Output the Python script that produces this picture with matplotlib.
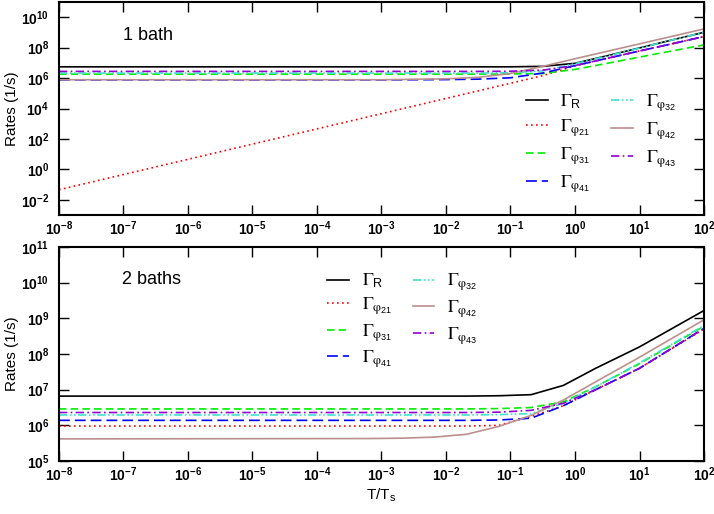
import numpy as np
import matplotlib
matplotlib.use("Agg")
import matplotlib.pyplot as plt
from matplotlib.font_manager import FontProperties
from matplotlib.ticker import FixedLocator, FuncFormatter, NullLocator

plt.rcParams['font.family'] = ['Liberation Sans', 'DejaVu Sans']
plt.rcParams['mathtext.fontset'] = 'custom'
plt.rcParams['mathtext.rm'] = 'Liberation Sans'
plt.rcParams['mathtext.bf'] = 'Liberation Sans:bold'
plt.rcParams['mathtext.it'] = 'Liberation Sans:italic'
plt.rcParams['mathtext.sf'] = 'Liberation Sans'

# log10(T/Ts) sample points
logT_1 = [-8, -3, -2, -1.5, -1, -0.5, 0, 0.5, 1, 1.5, 2]
logT_2 = [-8, -3.18, -2.68, -2.18, -1.68, -1.18, -0.68, -0.18, 0.32, 1, 2]

# log10 of rates (1/s), one bath
one_R   = [6.74, 6.74, 6.74, 6.74, 6.74, 6.77, 6.97, 7.47, 7.98, 8.50, 9.01]
one_p21 = [-1.34, 3.66, 4.66, 5.16, 5.66, 6.16, 6.80, 7.30, 7.78, 8.25, 8.73]
one_p31 = [6.26, 6.26, 6.26, 6.26, 6.27, 6.30, 6.57, 6.97, 7.38, 7.78, 8.18]
one_p41 = [5.88, 5.88, 5.90, 5.93, 6.02, 6.33, 6.82, 7.30, 7.78, 8.25, 8.73]
one_p32 = [6.33, 6.33, 6.33, 6.33, 6.35, 6.47, 6.95, 7.45, 7.97, 8.50, 9.01]
one_p42 = [5.89, 5.89, 5.95, 6.05, 6.30, 6.77, 7.27, 7.76, 8.25, 8.74, 9.23]
one_p43 = [6.44, 6.44, 6.44, 6.44, 6.45, 6.52, 6.82, 7.30, 7.78, 8.25, 8.73]

# log10 of rates (1/s), two baths
two_R   = [6.82, 6.82, 6.82, 6.82, 6.82, 6.83, 6.86, 7.12, 7.60, 8.20, 9.22]
two_p21 = [5.98, 5.98, 5.98, 5.98, 5.98, 6.00, 6.25, 6.55, 7.00, 7.60, 8.70]
two_p31 = [6.46, 6.46, 6.46, 6.46, 6.46, 6.47, 6.50, 6.66, 7.08, 7.73, 8.78]
two_p41 = [6.14, 6.14, 6.14, 6.14, 6.14, 6.15, 6.20, 6.55, 7.00, 7.60, 8.72]
two_p32 = [6.29, 6.29, 6.29, 6.29, 6.29, 6.30, 6.33, 6.62, 7.08, 7.75, 8.80]
two_p42 = [5.62, 5.63, 5.64, 5.67, 5.75, 5.97, 6.28, 6.71, 7.22, 7.91, 8.96]
two_p43 = [6.36, 6.36, 6.36, 6.36, 6.36, 6.37, 6.42, 6.62, 7.00, 7.60, 8.72]

labels = [r'$\Gamma_{\mathregular{R}}$',
          r'$\Gamma_{\mathrm{\varphi}_{\mathregular{21}}}$',
          r'$\Gamma_{\mathrm{\varphi}_{\mathregular{31}}}$',
          r'$\Gamma_{\mathrm{\varphi}_{\mathregular{41}}}$',
          r'$\Gamma_{\mathrm{\varphi}_{\mathregular{32}}}$',
          r'$\Gamma_{\mathrm{\varphi}_{\mathregular{42}}}$',
          r'$\Gamma_{\mathrm{\varphi}_{\mathregular{43}}}$']
colors = ['black', '#ff0000', '#00ee00', '#0000ff', '#40e0d0', '#bc8f8f', '#9400d3']
styles = [(None, None), (0, (1, 2)), (0, (4.5, 2.5)), (0, (6.5, 3)),
          (0, (5, 1.5, 1, 1.5, 1, 1.5)), (None, None), (0, (5, 2, 1, 2))]

one_bath = [one_R, one_p21, one_p31, one_p41, one_p32, one_p42, one_p43]
two_baths = [two_R, two_p21, two_p31, two_p41, two_p32, two_p42, two_p43]

fig = plt.figure(figsize=(7.14, 5.14), dpi=100)
ax1 = fig.add_axes([0.0826, 0.5817, 0.9034, 0.4144])
ax2 = fig.add_axes([0.0826, 0.1031, 0.9034, 0.4163])


def sup_fmt(v, pos):
    return r'$\mathbf{10^{%d}}$' % int(round(np.log10(v)))


def draw(ax, logT, series):
    T = 10.0 ** np.array(logT)
    for vals, lab, c, ls in zip(series, labels, colors, styles):
        if ls[0] is None:
            ax.plot(T, 10.0 ** np.array(vals), color=c, lw=1.2, label=lab)
        else:
            ax.plot(T, 10.0 ** np.array(vals), color=c, lw=1.2, linestyle=ls, label=lab)
    ax.set_xscale('log')
    ax.set_yscale('log')
    ax.set_xlim(1e-8, 1e2)
    ax.xaxis.set_major_locator(FixedLocator(10.0 ** np.arange(-8, 3)))
    ax.xaxis.set_minor_locator(NullLocator())
    ax.yaxis.set_minor_locator(NullLocator())
    ax.xaxis.set_major_formatter(FuncFormatter(sup_fmt))
    ax.yaxis.set_major_formatter(FuncFormatter(sup_fmt))
    ax.tick_params(which='both', direction='in', top=True, right=True,
                   length=7, width=1, labelsize=10)
    ax.tick_params(axis='x', pad=3)
    ax.tick_params(axis='y', pad=7)
    for s in ax.spines.values():
        s.set_linewidth(1.5)
    ax.set_ylabel('Rates (1/s)', fontsize=11)
    ax.yaxis.set_label_coords(-0.062, 0.5)


draw(ax1, logT_1, one_bath)
ax1.set_ylim(1e-3, 1e11)
ax1.yaxis.set_major_locator(FixedLocator(10.0 ** np.arange(-2, 11, 2)))
ax1.text(0.099, 0.845, '1 bath', transform=ax1.transAxes, fontsize=13, va='center')

draw(ax2, logT_2, two_baths)
ax2.set_ylim(1e5, 1e11)
ax2.yaxis.set_major_locator(FixedLocator(10.0 ** np.arange(5, 12)))
ax2.text(0.097, 0.85, '2 baths', transform=ax2.transAxes, fontsize=13, va='center')
ax2.set_xlabel(r'T/T$_\mathrm{s}$', fontsize=11)
ax2.xaxis.set_label_coords(0.5, -0.12)

lp = FontProperties(size=13, math_fontfamily='stix')
for ax, anchor, ls in [(ax1, (0.724, 0.575), 0.35), (ax2, (0.416, 0.885), 0.28)]:
    ax.legend(loc='upper left', bbox_to_anchor=anchor, ncol=2, frameon=False,
              prop=lp, handlelength=1.2, handletextpad=0.7, columnspacing=1.15,
              labelspacing=ls, borderpad=0, borderaxespad=0)

fig.savefig('out.png', dpi=100)
